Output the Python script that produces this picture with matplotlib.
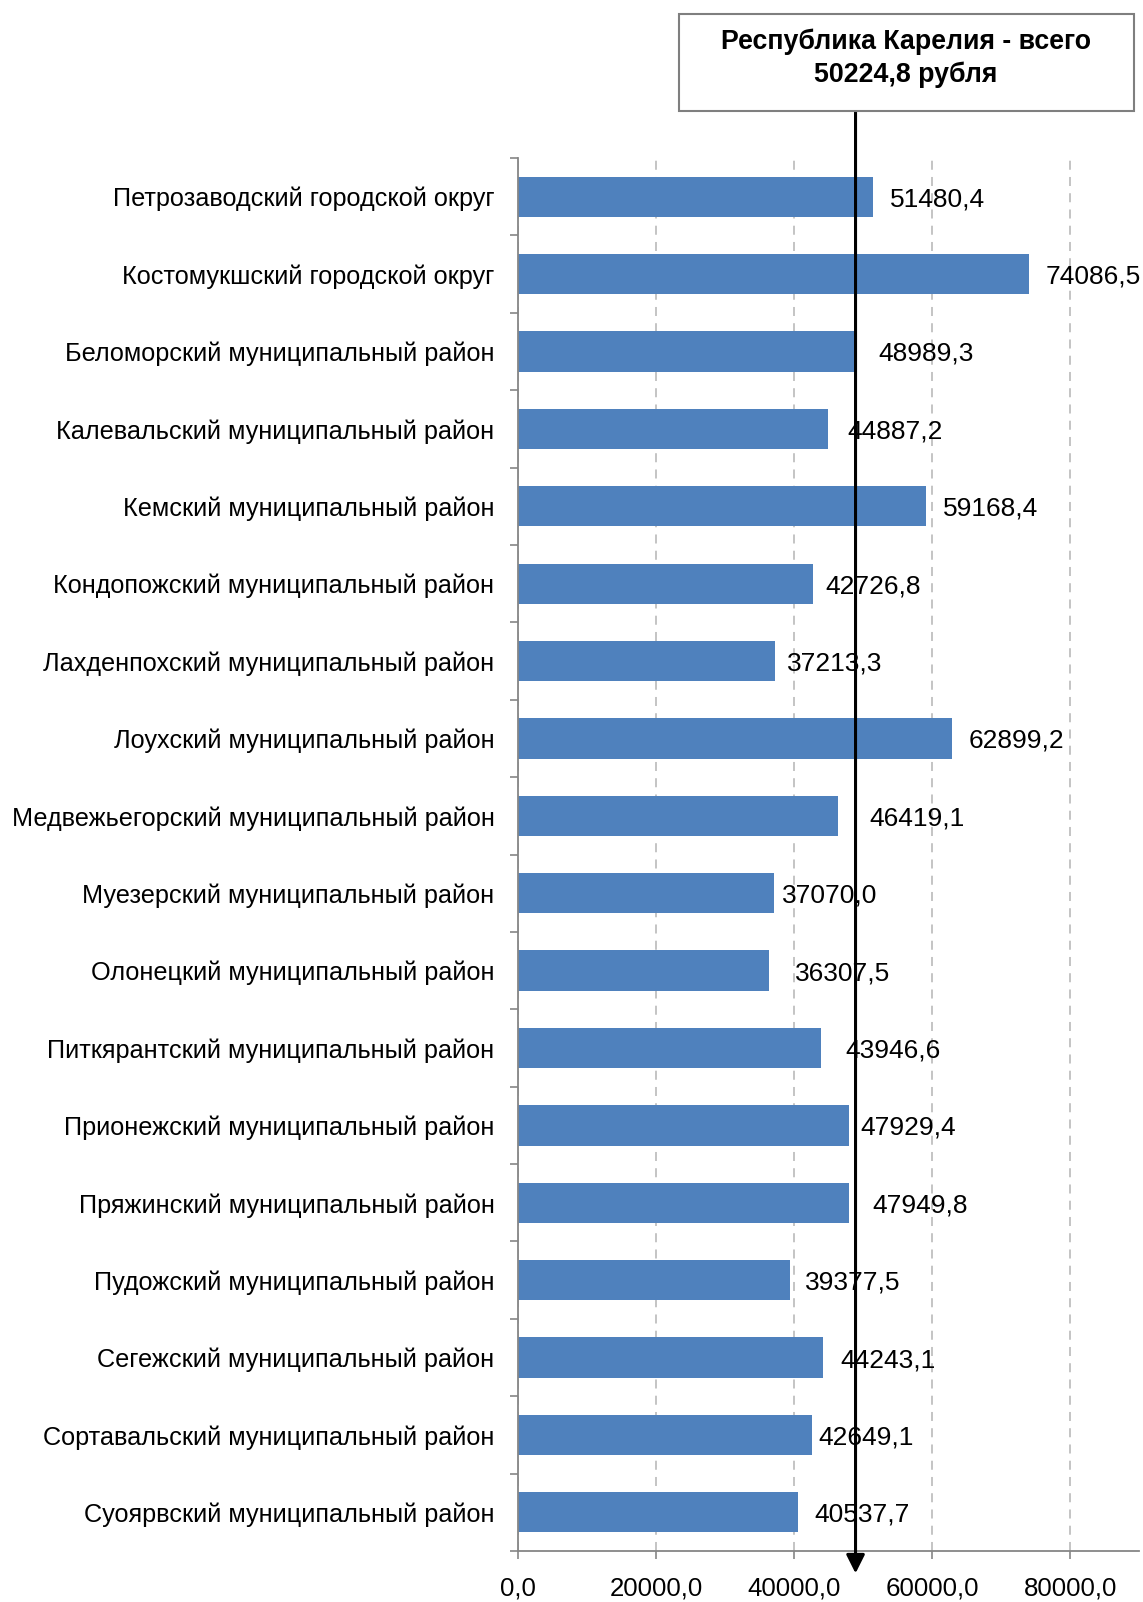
import matplotlib.pyplot as plt
import numpy as np
from matplotlib.patches import Rectangle

plt.rcParams['font.family'] = ['Liberation Sans', 'DejaVu Sans']

# Districts of Karelia and their values (rubles)
districts = [
    'Петрозаводский городской округ',
    'Костомукшский городской округ',
    'Беломорский муниципальный район',
    'Калевальский муниципальный район',
    'Кемский муниципальный район',
    'Кондопожский муниципальный район',
    'Лахденпохский муниципальный район',
    'Лоухский муниципальный район',
    'Медвежьегорский муниципальный район',
    'Муезерский муниципальный район',
    'Олонецкий муниципальный район',
    'Питкярантский муниципальный район',
    'Прионежский муниципальный район',
    'Пряжинский муниципальный район',
    'Пудожский муниципальный район',
    'Сегежский муниципальный район',
    'Сортавальский муниципальный район',
    'Суоярвский муниципальный район',
]
values = [51480.4, 74086.5, 48989.3, 44887.2, 59168.4, 42726.8, 37213.3, 62899.2,
          46419.1, 37070.0, 36307.5, 43946.6, 47929.4, 47949.8, 39377.5, 44243.1,
          42649.1, 40537.7]

total_label = 'Республика Карелия - всего\n50224,8 рубля'
# the marker line in the original sits a bit left of the true total
marker_x = 48900

x_ticks = [0, 20000, 40000, 60000, 80000]

# label offsets (points) - labels were nudged by hand in the source
label_dx = [12, 12, 16, 14, 12, 9, 9, 12, 22, 6, 19, 17, 8, 17, 11, 12, 4, 12]

fig = plt.figure(figsize=(11.43, 16.02), dpi=100)
ax = fig.add_axes([0.4532, 0.0318, 0.5435, 0.8696])

y = np.arange(len(districts))
ax.barh(y, values, height=0.52, color='#4F81BD', zorder=2)

ax.set_ylim(len(districts) - 0.5, -0.5)
ax.set_xlim(0, 90000)

ax.set_yticks(y)
ax.set_yticklabels(districts, fontsize=18.2)
ax.set_yticks(np.arange(-0.5, len(districts), 1), minor=True)
ax.tick_params(axis='y', which='major', length=0, pad=17)
ax.tick_params(axis='y', which='minor', length=6, width=1.2, color='#868686')

ax.set_xticks(x_ticks)
ax.set_xticklabels(['%d,0' % v for v in x_ticks], fontsize=18.6)
ax.tick_params(axis='x', length=6, width=1.2, color='#868686', pad=12)

ax.grid(axis='x', linestyle=(0, (5, 4)), color='#BFBFBF', linewidth=1.3, zorder=0)

for s in ['top', 'right']:
    ax.spines[s].set_visible(False)
for s in ['left', 'bottom']:
    ax.spines[s].set_color('#868686')
    ax.spines[s].set_linewidth(1.3)

for i, v in enumerate(values):
    ax.annotate(('%.1f' % v).replace('.', ','), xy=(v, i), xytext=(label_dx[i], 0),
                textcoords='offset points', va='center_baseline', ha='left',
                fontsize=19, zorder=4)

# total marker line with arrow
ax.annotate('', xy=(marker_x, -0.016), xytext=(marker_x, 1.034),
            xycoords=ax.get_xaxis_transform(), textcoords=ax.get_xaxis_transform(),
            arrowprops=dict(arrowstyle='-|>', lw=2.2, color='black', mutation_scale=28,
                            shrinkA=0, shrinkB=0),
            annotation_clip=False, zorder=5)

# box with the total value
box = Rectangle((679 / 1143, 1 - 111 / 1602), (1134 - 679) / 1143, (111 - 14) / 1602,
                transform=fig.transFigure, facecolor='white', edgecolor='#7F7F7F', lw=1.5)
fig.patches.append(box)
fig.text(906 / 1143, 1 - 58 / 1602, total_label, ha='center', va='center',
         fontsize=19.3, fontweight='bold', linespacing=1.3)

plt.savefig('out.png', dpi=100)
